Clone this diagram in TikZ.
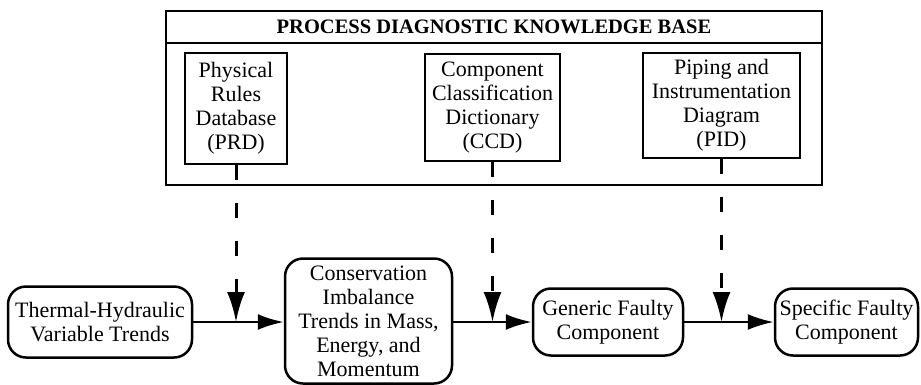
\documentclass[tikz,border=0pt]{standalone}
\usepackage{fontspec}
\setmainfont{Liberation Serif}
\usetikzlibrary{arrows.meta}
\begin{document}
\begin{tikzpicture}[x=1pt, y=-1pt, >={Latex[length=26pt,width=16pt]}, line width=2.5pt,
    dbbox/.style={draw, inner sep=0pt, align=center, font=\fontsize{22}{24}\selectfont},
    trendbox/.style={draw, rounded corners=18pt, inner sep=0pt, align=center, font=\fontsize{22}{24}\selectfont},
    feed/.style={-{Latex[length=30pt,width=18pt]}, dash pattern=on 15pt off 23pt, line width=3pt}]
    \useasboundingbox (0,0) rectangle (921,384);
    % knowledge base
    \node[draw, minimum width=656pt, minimum height=174pt] (kb) at (494,98) {};
    \draw (kb.west |- 0,43)--(kb.east |- 0,43);
    \node[font=\fontsize{20.5}{24}\selectfont\bfseries] (kbtitle) at (494,27) {PROCESS DIAGNOSTIC KNOWLEDGE BASE};
    \node[dbbox, minimum width=102pt, minimum height=111pt] (prd) at (236,108.5) {Physical\\Rules\\Database\\(PRD)};
    \node[dbbox, minimum width=135pt, minimum height=107pt] (ccd) at (492.5,107.5) {Component\\Classification\\Dictionary\\(CCD)};
    \node[dbbox, minimum width=157pt, minimum height=105pt] (pid) at (721.5,105.5) {Piping and\\Instrumentation\\Diagram\\(PID)};
    % trend chain
    \node[trendbox, minimum width=184pt, minimum height=71pt] (thtrend) at (100,322) {Thermal-Hydraulic\\Variable Trends};
    \node[trendbox, minimum width=167pt, minimum height=125pt] (imbal) at (368.5,321) {Conservation\\Imbalance\\Trends in Mass,\\Energy, and\\Momentum};
    \node[trendbox, minimum width=150pt, minimum height=67pt] (generic) at (608,322) {Generic Faulty\\Component};
    \node[trendbox, minimum width=143pt, minimum height=67pt] (specific) at (846.5,322) {Specific Faulty\\Component};
    \draw[->](thtrend)--(imbal.west |- thtrend.east);
    \draw[->](imbal.east |- generic.west)--(generic);
    \draw[->](generic)--(specific);
    \draw[feed](prd.south)--(prd.south |- thtrend.east);
    \draw[feed](ccd.south)--(ccd.south |- generic.west);
    \draw[feed](pid.south)--(pid.south |- generic.east);
\end{tikzpicture}
\end{document}
